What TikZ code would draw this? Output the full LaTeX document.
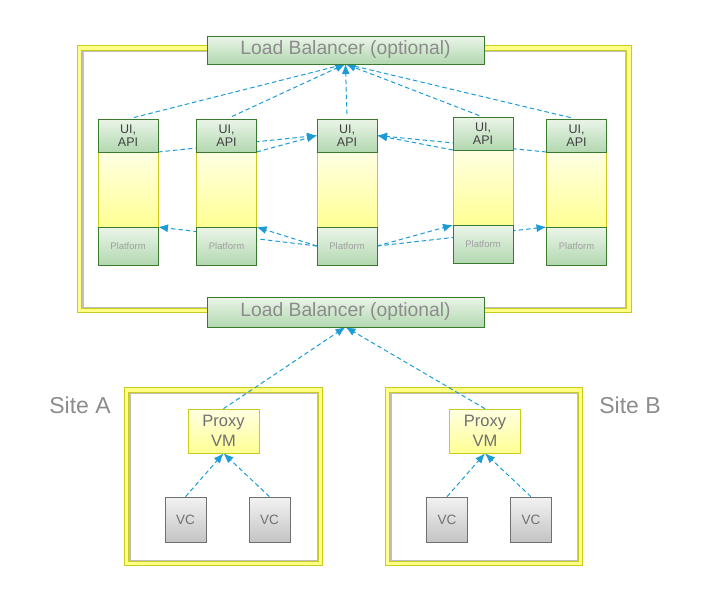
\documentclass[tikz,border=0pt]{standalone}
\usepackage{fontspec}
\setmainfont{Liberation Sans}
\usetikzlibrary{positioning, arrows.meta}

\definecolor{greenline}{HTML}{3B7A2E}
\definecolor{greentop}{HTML}{EBF5E9}
\definecolor{greenbot}{HTML}{B2D8B0}
\definecolor{yellowline}{HTML}{C9CC1C}
\definecolor{yellowtop}{HTML}{FFFFE3}
\definecolor{yellowbot}{HTML}{FFFF94}
\definecolor{grayline}{HTML}{707070}
\definecolor{graytop}{HTML}{F2F2F2}
\definecolor{graybot}{HTML}{C4C4C4}
\definecolor{framefill}{HTML}{FFFF88}
\definecolor{linkblue}{HTML}{1C9BD6}
\definecolor{labelgray}{HTML}{8C8C8C}
\definecolor{darktext}{HTML}{404040}
\definecolor{softtext}{HTML}{A0A0A0}
\definecolor{midtext}{HTML}{707070}

\pgfdeclarelayer{frames}
\pgfdeclarelayer{links}
\pgfsetlayers{frames,links,main}

\tikzset{
    greenbox/.style={ % green parts (UI, platform, load balancer)
        draw=greenline,
        semithick,
        top color=greentop,
        bottom color=greenbot,
        inner sep=0pt,
        outer sep=0pt,
        align=center
    },
    uibox/.style={greenbox, minimum width=60pt, minimum height=33pt,
        text=darktext, font=\fontsize{12.5}{13.5}\selectfont},
    platbox/.style={greenbox, minimum width=60pt, minimum height=38pt,
        text=softtext, font=\fontsize{9.5}{11}\selectfont},
    lbbox/.style={greenbox, minimum width=277pt, minimum height=28pt,
        text=labelgray, font=\fontsize{19.3}{22}\selectfont},
    midbox/.style={ % empty yellow middle of a column
        draw=yellowline,
        semithick,
        top color=yellowtop,
        bottom color=yellowbot,
        minimum width=60pt,
        minimum height=75pt,
        outer sep=0pt
    },
    proxybox/.style={
        draw=yellowline,
        semithick,
        top color=yellowtop,
        bottom color=yellowbot,
        minimum width=71pt,
        minimum height=44pt,
        inner sep=0pt,
        align=center,
        text=midtext,
        font=\fontsize{16.5}{20}\selectfont
    },
    vcbox/.style={
        draw=grayline,
        semithick,
        top color=graytop,
        bottom color=graybot,
        minimum width=41pt,
        minimum height=45pt,
        inner sep=0pt,
        text=midtext,
        font=\fontsize{13.5}{16}\selectfont
    },
    sitelabel/.style={text=labelgray, font=\fontsize{23}{26}\selectfont},
    frame/.style={draw=yellowline, double=framefill, double distance=3.6pt, line width=0.8pt},
    frameshadow/.style={draw=black!25, line width=1.4pt},
    every edge/.style={ % dashed blue links
        draw=linkblue,
        ->,>={Latex[length=10pt,width=8pt]},
        line width=1pt,
        dash pattern=on 4.5pt off 3pt
    }
}

\begin{document}
\begin{tikzpicture}[x=1pt, y=-1pt]
        \useasboundingbox (0,0) rectangle (711,595);

        % frames
        \begin{pgfonlayer}{frames}
            \draw[frame]        (79.5,48) rectangle (629,310.5);
            \draw[frameshadow]  (82.8,51.3) rectangle (625.7,307.2);
            \draw[frame]        (126.5,390) rectangle (320.5,563.5);
            \draw[frameshadow]  (129.8,393.3) rectangle (317.2,560.2);
            \draw[frame]        (387.5,390) rectangle (580.5,563.5);
            \draw[frameshadow]  (390.8,393.3) rectangle (577.2,560.2);
        \end{pgfonlayer}

        % load balancers
        \node[lbbox]                        (lbtop)     at (345.5,50)   {Load Balancer (optional)};
        \node[lbbox, minimum height=30pt]   (lbbot)     at (345.5,312)  {Load Balancer (optional)};

        % first column
        \node[midbox]                       (mid1)      at (128,189.5)  {};
        \node[uibox, above=0pt of mid1]     (ui1)       {UI,\\API};
        \node[platbox, below=0pt of mid1]   (plat1)     {Platform};
        % second column
        \node[midbox]                       (mid2)      at (226.5,189.5) {};
        \node[uibox, above=0pt of mid2]     (ui2)       {UI,\\API};
        \node[platbox, below=0pt of mid2]   (plat2)     {Platform};
        % third column
        \node[midbox]                       (mid3)      at (347,189.5)  {};
        \node[uibox, above=0pt of mid3]     (ui3)       {UI,\\API};
        \node[platbox, below=0pt of mid3]   (plat3)     {Platform};
        % fourth column
        \node[midbox]                       (mid4)      at (483,187.5)  {};
        \node[uibox, above=0pt of mid4]     (ui4)       {UI,\\API};
        \node[platbox, below=0pt of mid4]   (plat4)     {Platform};
        % fifth column
        \node[midbox]                       (mid5)      at (576.5,189.5) {};
        \node[uibox, above=0pt of mid5]     (ui5)       {UI,\\API};
        \node[platbox, below=0pt of mid5]   (plat5)     {Platform};

        % sites
        \node[sitelabel]                    (sitea)     at (80,405)     {Site A};
        \node[sitelabel]                    (siteb)     at (630,405)    {Site B};
        \node[proxybox]                     (proxya)    at (223.5,431)  {Proxy\\VM};
        \node[proxybox]                     (proxyb)    at (485,431)    {Proxy\\VM};
        \node[vcbox]                        (vca1)      at (185.5,519.5) {VC};
        \node[vcbox]                        (vca2)      at (269.5,519.5) {VC};
        \node[vcbox]                        (vcb1)      at (447,519.5)  {VC};
        \node[vcbox]                        (vcb2)      at (531,519.5)  {VC};

        \begin{pgfonlayer}{links}
        \draw
                % up to the top load balancer
                (ui1.north)     edge[shorten <=6pt]     (lbtop.south)
                (ui2.north)     edge[shorten <=6pt]     (lbtop.south)
                (ui3.north)     edge[shorten <=5pt]     (lbtop.south)
                (ui4.north)     edge[shorten <=4pt]     (lbtop.south)
                (ui5.north)     edge[shorten <=6pt]     (lbtop.south)
                % between the UI parts
                (ui1.south east) edge                   (ui3.west)
                (ui2.south east) edge                   (ui3.west)
                (ui4.south west) edge                   (ui3.east)
                (ui5.south west) edge                   (ui3.east)
                % between the platforms
                (plat3.west)    edge                    (mid2.south east)
                (plat3.west)    edge                    (mid1.south east)
                (plat3.east)    edge                    (mid4.south west)
                (plat3.east)    edge                    (mid5.south west)
                % sites
                (proxya.north)  edge                    (lbbot.south)
                (proxyb.north)  edge                    (lbbot.south)
                (vca1.north)    edge                    (proxya.south)
                (vca2.north)    edge                    (proxya.south)
                (vcb1.north)    edge                    (proxyb.south)
                (vcb2.north)    edge                    (proxyb.south)
        ;
        \end{pgfonlayer}
    \end{tikzpicture}
\end{document}
